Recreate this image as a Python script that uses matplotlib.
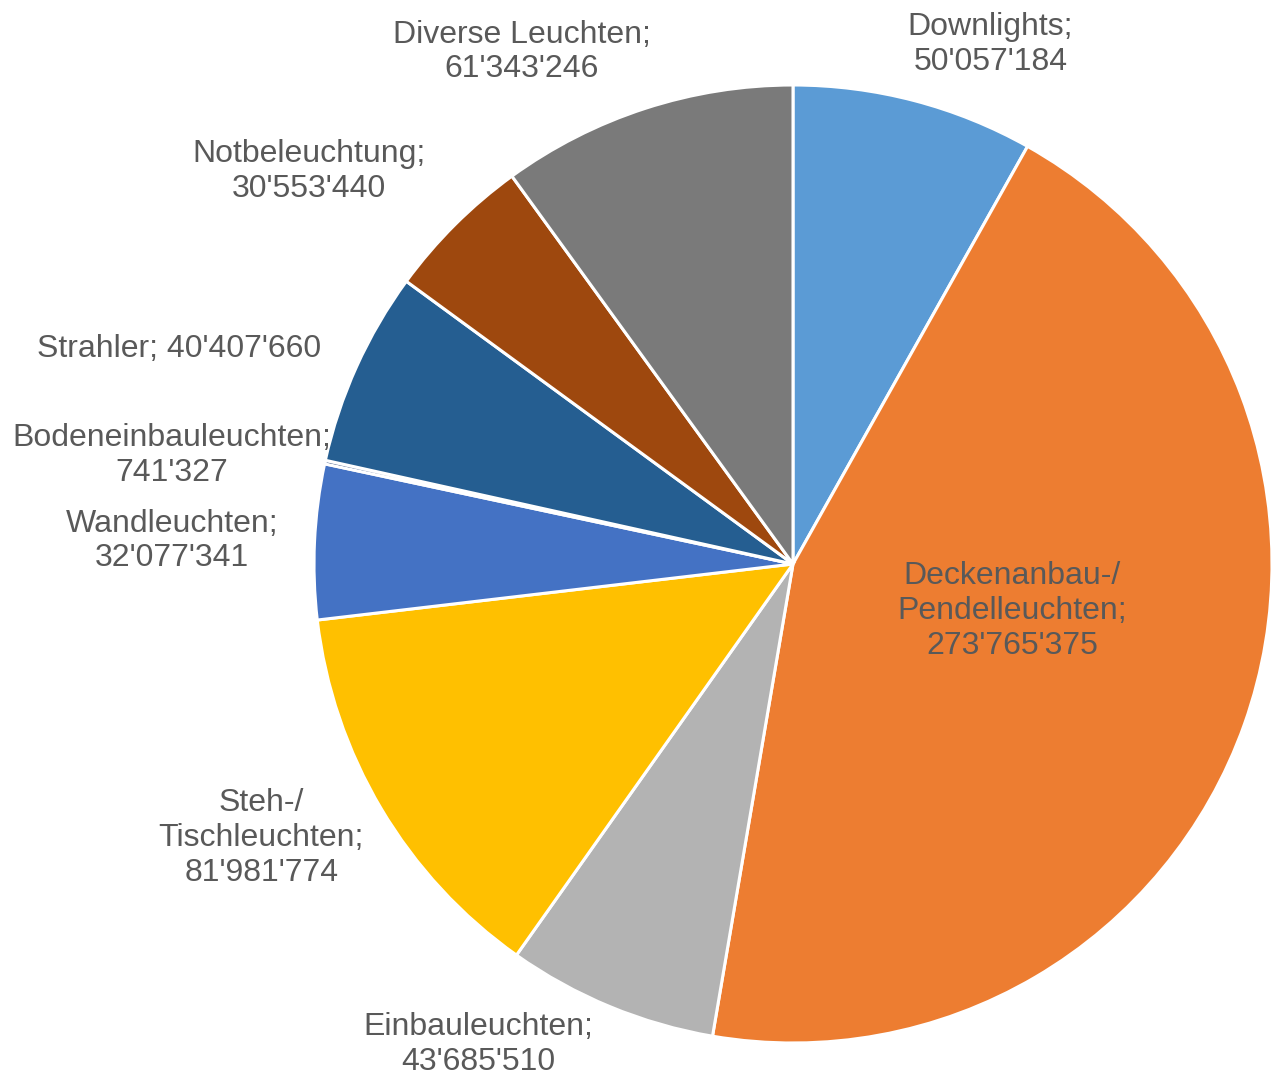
import matplotlib
matplotlib.use("Agg")
import matplotlib.pyplot as plt

categories = ["Downlights", "Deckenanbau-/\nPendelleuchten", "Einbauleuchten",
              "Steh-/\nTischleuchten", "Wandleuchten", "Bodeneinbauleuchten",
              "Strahler", "Notbeleuchtung", "Diverse Leuchten"]
values = [50057184, 273765375, 43685510, 81981774, 32077341, 741327,
          40407660, 30553440, 61343246]
colors = ["#5B9BD5", "#ED7D31", "#B3B3B3", "#FFC000", "#4472C4", "#264478",
          "#255E91", "#9E480E", "#7A7A7A"]
# label separator after category name (newline or space)
separators = ["\n", "\n", "\n", "\n", "\n", "\n", " ", "\n", "\n"]
# label centres in data units (pie radius = 1)
label_pos = [(0.412, 1.085), (0.458, -0.098), (-0.656, -1.003), (-1.110, -0.572),
             (-1.296, 0.048), (-1.296, 0.226), (-1.282, 0.448), (-1.010, 0.820),
             (-0.566, 1.069)]

W, H = 1272, 1078
cx, cy, R = 793, 564, 479
fig = plt.figure(figsize=(W / 100, H / 100), dpi=100)
ax = fig.add_axes([0, 0, 1, 1])

ax.pie(values, colors=colors, startangle=90, counterclock=False, radius=1,
       center=(0, 0), frame=True,
       wedgeprops=dict(edgecolor="white", linewidth=2.2))
ax.set_xlim(-cx / R, (W - cx) / R)
ax.set_ylim(-(H - cy) / R, cy / R)
ax.set_aspect("auto")
ax.axis("off")

for cat, val, sep, (x, y) in zip(categories, values, separators, label_pos):
    txt = f"{cat};{sep}" + f"{val:,}".replace(",", "'")
    ax.text(x, y, txt, ha="center", va="center", fontsize=23,
            color="#595959", family="Liberation Sans", linespacing=1.2)

fig.savefig("out.png", dpi=100)
